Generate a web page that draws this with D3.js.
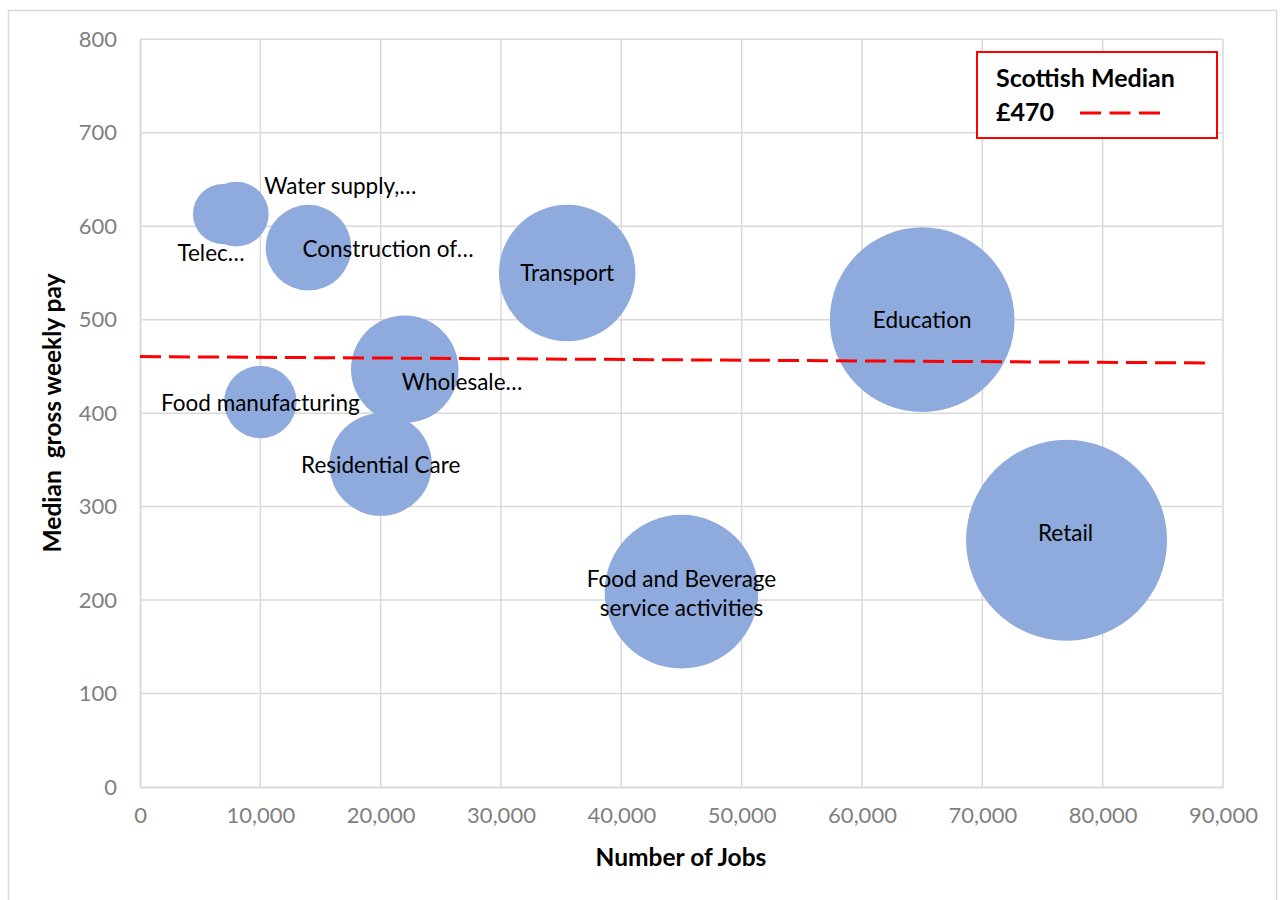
<!DOCTYPE html>
<html>
<head>
<meta charset="utf-8">
<script src="https://cdn.jsdelivr.net/npm/d3@7/dist/d3.min.js"></script>
<style>
  html, body { margin: 0; padding: 0; background: #fff; }
  svg { display: block; }
  text { font-family: Lato, "Open Sans", sans-serif; }
</style>
</head>
<body>
<svg id="chart" width="1283" height="900"></svg>
<script>
// ---- data ----
const sectors = ["Telec…", "Water supply,…", "Construction of…", "Food manufacturing", "Wholesale…",
                 "Residential Care", "Transport", "Education", "Food and Beverage\nservice activities", "Retail"];
const jobs    = [6900, 8000, 14000, 10000, 22000, 20000, 35500, 65000, 45000, 77000];
const weeklyPay = [613, 613, 577, 412, 447, 345, 550, 500, 209, 264];
const bubbleSize = [6900, 8000, 14000, 10000, 22000, 20000, 35500, 65000, 45000, 77000];
const medianLineX = [0, 88500];
const medianLineY = [460.5, 453.7];
const xTicks = [0, 10000, 20000, 30000, 40000, 50000, 60000, 70000, 80000, 90000];
const yTicks = [0, 100, 200, 300, 400, 500, 600, 700, 800];
const legendTitle = "Scottish Median";
const legendValue = "£470";

// label placement (pixel offsets from bubble centre; anchor)
const labelPlacement = [
  {dx: -12, dy: 39, anchor: "middle"},
  {dx: 28, dy: -28, anchor: "start"},
  {dx: -6, dy: 1, anchor: "start"},
  {dx: 0, dy: 1, anchor: "middle"},
  {dx: -3, dy: 13, anchor: "start"},
  {dx: 0, dy: 1, anchor: "middle"},
  {dx: 0, dy: 0, anchor: "middle"},
  {dx: 0, dy: 0, anchor: "middle"},
  {dx: 0, dy: 2, anchor: "middle"},
  {dx: -1, dy: -7, anchor: "middle"}
];

const svg = d3.select("#chart");

// outer chart border
svg.append("rect").attr("x", 8.5).attr("y", 10.5).attr("width", 1268).attr("height", 900)
  .attr("fill", "none").attr("stroke", "#d9d9d9").attr("stroke-width", 1.5);

const x = d3.scaleLinear().domain([0, 90000]).range([140, 1223]);
const y = d3.scaleLinear().domain([0, 800]).range([787, 39.3]);
const r = d3.scaleSqrt().domain([0, 77000]).range([0, 100.5]);

// gridlines
const grid = svg.append("g");
grid.selectAll("line.v").data(xTicks.filter(d => d > 0)).join("line")
  .attr("x1", d => x(d)).attr("x2", d => x(d)).attr("y1", y(0)).attr("y2", y(800))
  .attr("stroke", "#d9d9d9").attr("stroke-width", 1.5);
grid.selectAll("line.h").data(yTicks.filter(d => d > 0)).join("line")
  .attr("x1", x(0)).attr("x2", x(90000)).attr("y1", d => y(d)).attr("y2", d => y(d))
  .attr("stroke", "#d9d9d9").attr("stroke-width", 1.5);

// axes
const fmt = d3.format(",");
const xAxis = svg.append("g").attr("transform", `translate(0,${y(0)})`)
  .call(d3.axisBottom(x).tickValues(xTicks).tickSize(0).tickPadding(20).tickFormat(fmt));
const yAxis = svg.append("g").attr("transform", `translate(${x(0)},0)`)
  .call(d3.axisLeft(y).tickValues(yTicks).tickSize(0).tickPadding(23));
[xAxis, yAxis].forEach(a => {
  a.select(".domain").attr("stroke", "#d9d9d9").attr("stroke-width", 2);
  a.selectAll("text").attr("fill", "#7f7f7f").attr("font-size", 22)
    .attr("font-family", "Lato, 'Open Sans', sans-serif");
});
xAxis.selectAll("text").attr("dy", "0.71em");

// axis titles
svg.append("text").attr("x", 681).attr("y", 866).attr("text-anchor", "middle")
  .attr("font-weight", "bold").attr("font-size", 24.5).text("Number of Jobs");
svg.append("text").attr("transform", "translate(61,413) rotate(-90)").attr("text-anchor", "middle")
  .attr("font-weight", "bold").attr("font-size", 24.5).attr("xml:space", "preserve")
  .style("white-space", "pre").text("Median  gross weekly pay");

// bubbles
const data = sectors.map((s, i) => ({name: s, x: jobs[i], y: weeklyPay[i], size: bubbleSize[i], lp: labelPlacement[i]}));
svg.append("g").selectAll("circle").data(data).join("circle")
  .attr("cx", d => x(d.x)).attr("cy", d => y(d.y)).attr("r", d => r(d.size))
  .attr("fill", "#8faadc");

// median line
const line = d3.line().x(d => x(d[0])).y(d => y(d[1]));
svg.append("path").datum(medianLineX.map((v, i) => [v, medianLineY[i]]))
  .attr("d", line).attr("fill", "none").attr("stroke", "#ff0000")
  .attr("stroke-width", 3).attr("stroke-dasharray", "21,8");

// labels
const lbl = svg.append("g").selectAll("text").data(data).join("text")
  .attr("font-size", 22.5).attr("fill", "#000")
  .attr("text-anchor", d => d.lp.anchor)
  .attr("transform", d => `translate(${x(d.x) + d.lp.dx},${y(d.y) + d.lp.dy})`);
lbl.each(function(d) {
  const lines = d.name.split("\n");
  const t = d3.select(this);
  lines.forEach((ln, k) => {
    t.append("tspan").attr("x", 0)
      .attr("dy", k === 0 ? (0.35 - (lines.length - 1) * 0.65) + "em" : "1.3em")
      .text(ln);
  });
});

// legend box
const lg = svg.append("g");
lg.append("rect").attr("x", 977).attr("y", 52).attr("width", 240).attr("height", 86)
  .attr("fill", "#fff").attr("stroke", "#ff0000").attr("stroke-width", 2);
lg.append("text").attr("x", 996).attr("y", 87).attr("font-weight", "bold").attr("font-size", 25)
  .text(legendTitle);
lg.append("text").attr("x", 996).attr("y", 121).attr("font-weight", "bold").attr("font-size", 25)
  .text(legendValue);
lg.append("line").attr("x1", 1080).attr("x2", 1160).attr("y1", 113).attr("y2", 113)
  .attr("stroke", "#ff0000").attr("stroke-width", 3).attr("stroke-dasharray", "21,8.5");
</script>
</body>
</html>
